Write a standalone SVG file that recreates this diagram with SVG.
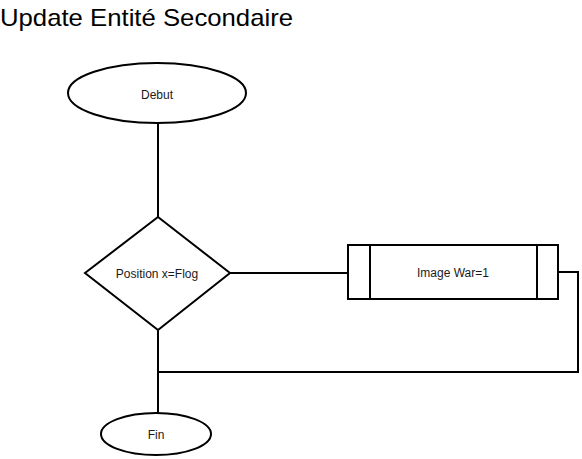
<svg xmlns="http://www.w3.org/2000/svg" width="582" height="459" viewBox="0 0 582 459">
<style>
.s{fill:#fff;stroke:#000;stroke-width:2}
.c{fill:none;stroke:#000;stroke-width:2}
.t{font-family:"Liberation Sans",Arial,sans-serif;font-size:12px;fill:#1a1a1a;text-anchor:middle;dominant-baseline:central}
.title{font-family:"Liberation Sans",Arial,sans-serif;font-size:24px;fill:#000}
</style>
<rect width="582" height="459" fill="#fff"/>
<text class="title" x="0" y="26" textLength="293" lengthAdjust="spacingAndGlyphs">Update Entité Secondaire</text>
<g id="connectors">
<line class="c" x1="158" y1="123" x2="158" y2="217"/>
<line class="c" x1="230" y1="273" x2="348" y2="273"/>
<polyline class="c" points="558,272 578,272 578,372 158,372"/>
<line class="c" x1="158" y1="330" x2="158" y2="413"/>
</g>
<g id="debut">
<ellipse class="s" cx="157" cy="93" rx="89" ry="30"/>
<text class="t" x="157" y="95">Debut</text>
</g>
<g id="decision">
<polygon class="s" points="158,217 230,273 158,330 85,273"/>
<text class="t" x="157" y="274">Position x=Flog</text>
</g>
<g id="process">
<rect class="s" x="348" y="245" width="210" height="54"/>
<line class="c" x1="370" y1="245" x2="370" y2="299"/>
<line class="c" x1="537" y1="245" x2="537" y2="299"/>
<text class="t" x="453" y="273">Image War=1</text>
</g>
<g id="fin">
<ellipse class="s" cx="156" cy="434" rx="55" ry="21"/>
<text class="t" x="156" y="435">Fin</text>
</g>
</svg>
